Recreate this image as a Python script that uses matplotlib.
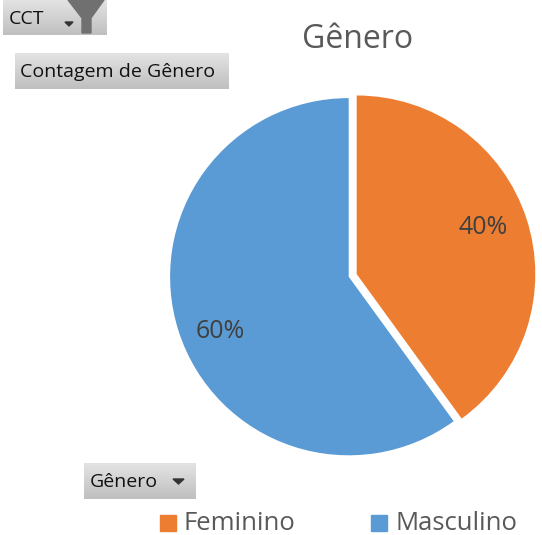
import numpy as np
import matplotlib
matplotlib.use("Agg")
import matplotlib.pyplot as plt
from matplotlib.patches import Rectangle, Polygon

categories = ["Feminino", "Masculino"]
values = [40, 60]
colors = ["#ED7D31", "#5B9BD5"]
title = "Gênero"
W, H = 542, 535
plt.rcParams['font.family'] = ['Open Sans', 'DejaVu Sans']

fig = plt.figure(figsize=(W/100, H/100), dpi=100)
bg = fig.add_axes([0, 0, 1, 1])
bg.set_xlim(0, W); bg.set_ylim(H, 0); bg.axis('off')
bg.set_zorder(5)

# axes in which one data unit is one pixel, centred on the blue slice's apex
cx, cy = 348.7, 276.7
S = 200
ax = fig.add_axes([(cx-S)/W, 1-(cy+S)/H, 2*S/W, 2*S/H])
ax.patch.set_alpha(0)
wedges, _ = ax.pie(values, colors=colors, startangle=90, counterclock=False,
                   explode=[8.4, 0.0], radius=178.6,
                   wedgeprops=dict(edgecolor='none'))
ax.set_xlim(-S, S); ax.set_ylim(-S, S)
ax.set_aspect('equal')

bg.text(358, 40, title, ha='center', va='center', fontsize=23, color='#595959')
bg.text(483, 227, f"{values[0]}%", ha='center', va='center', fontsize=18, color='#404040')
bg.text(220, 332, f"{values[1]}%", ha='center', va='center', fontsize=18, color='#404040')

grad = np.linspace(0.89, 0.75, 64).reshape(-1, 1)
def button(x, y, w, h, text, tx, size=14):
    bg.imshow(grad, extent=(x, x+w, y+h, y), cmap='gray', vmin=0, vmax=1,
              aspect='auto', zorder=1, interpolation='bilinear')
    bg.text(tx, y+h/2+1, text, ha='left', va='center', fontsize=size, color='#111111',
            family=['Open Sans', 'DejaVu Sans'], zorder=2)

button(3, 0, 104, 35, "CCT", 9)
button(15, 53, 214, 36, "Contagem de Gênero", 20)
button(84, 463, 112, 36, "Gênero", 90)
bg.set_xlim(0, W); bg.set_ylim(H, 0)

bg.add_patch(Polygon([[65, 22], [73, 22], [69, 26]], color='#333333', zorder=3))
bg.add_patch(Polygon([[173, 479], [184, 479], [178.5, 484]], color='#333333', zorder=3))
bg.add_patch(Polygon([[68, 0], [104, 0], [91, 18], [91, 33], [82, 33], [82, 18]],
                     color='#707070', zorder=3))

bg.add_patch(Rectangle((160, 515), 16, 16, color=colors[0]))
bg.add_patch(Rectangle((371, 515), 16, 16, color=colors[1]))
bg.text(184, 524, categories[0], ha='left', va='center', fontsize=18.5, color='#595959')
bg.text(395, 524, categories[1], ha='left', va='center', fontsize=18.5, color='#595959')

fig.savefig("out.png", dpi=100)
